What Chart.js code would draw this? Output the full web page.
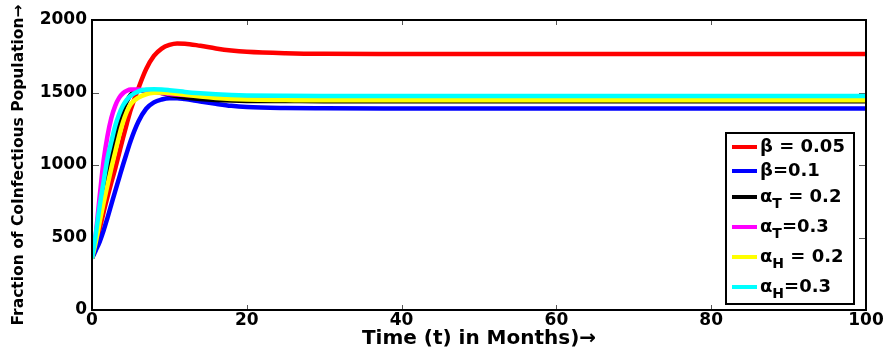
<!DOCTYPE html>
<html>
<head>
<meta charset="utf-8">
<script src="https://cdn.jsdelivr.net/npm/chart.js@4"></script>
<style>
  html, body { margin: 0; padding: 0; background: #fff; }
  #wrap { width: 887px; height: 350px; }
</style>
</head>
<body>
<div id="wrap"><canvas id="coinfection"></canvas></div>
<script>
'use strict';

// time points (months)
const months = [0, 0.5, 1, 1.5, 2, 2.5, 3, 3.5, 4, 4.5, 5, 6, 7, 8, 9, 10, 11, 12, 14, 16, 18, 20, 25, 30, 40, 50, 60, 70, 80, 90, 100];

const beta005 = [356, 450, 560, 675, 780, 880, 975, 1080, 1185, 1285, 1380, 1530, 1662, 1752, 1803, 1828, 1838, 1837, 1822, 1804, 1790, 1781, 1771, 1767, 1766, 1766, 1766, 1766, 1766, 1766, 1766];
const beta01 = [356, 412, 472, 548, 636, 728, 820, 910, 1000, 1085, 1168, 1300, 1388, 1432, 1452, 1461, 1461, 1455, 1438, 1422, 1408, 1400, 1393, 1391, 1390, 1390, 1390, 1390, 1390, 1390, 1390];
const alphaT02 = [356, 495, 655, 800, 945, 1070, 1185, 1290, 1375, 1440, 1485, 1512, 1515, 1508, 1497, 1485, 1474, 1466, 1455, 1448, 1444, 1442, 1441, 1440, 1440, 1440, 1440, 1440, 1440, 1440, 1440];
const alphaT03 = [356, 530, 790, 1030, 1200, 1325, 1408, 1463, 1495, 1512, 1520, 1520, 1512, 1503, 1496, 1490, 1486, 1483, 1479, 1476, 1475, 1474, 1473, 1472, 1472, 1472, 1472, 1472, 1472, 1472, 1472];
const alphaH02 = [356, 470, 610, 740, 860, 980, 1090, 1200, 1295, 1368, 1420, 1465, 1488, 1498, 1500, 1497, 1491, 1484, 1472, 1462, 1455, 1451, 1448, 1446, 1446, 1446, 1446, 1446, 1446, 1446, 1446];
const alphaH03 = [356, 525, 720, 885, 1045, 1160, 1270, 1350, 1410, 1450, 1478, 1508, 1520, 1523, 1521, 1516, 1510, 1504, 1495, 1488, 1483, 1480, 1477, 1476, 1476, 1476, 1476, 1476, 1476, 1476, 1476];

const xTicks = [0, 20, 40, 60, 80, 100];
const yTicks = [0, 500, 1000, 1500, 2000];

// legend text: [symbol, subscript, rest]
const legendLabels = [
    ['β', '', ' = 0.05'],
    ['β', '', '=0.1'],
    ['α', 'T', ' = 0.2'],
    ['α', 'T', '=0.3'],
    ['α', 'H', ' = 0.2'],
    ['α', 'H', '=0.3'],
];
const seriesColors = ['#ff0000', '#0000ff', '#000000', '#ff00ff', '#ffff00', '#00ffff'];
const seriesValues = [beta005, beta01, alphaT02, alphaT03, alphaH02, alphaH03];

const FONT = '"DejaVu Sans", sans-serif';

const toPoints = (vals) => months.map((t, i) => ({x: t, y: vals[i]}));

// matlab style frame: box, inward ticks on all four sides, legend inside
const matlabFrame = {
    id: 'matlabFrame',
    beforeDatasetsDraw(chart) {
        const {ctx, chartArea: a, scales} = chart;
        ctx.save();
        ctx.strokeStyle = '#555';
        ctx.lineWidth = 1;
        ctx.beginPath();
        xTicks.forEach(v => {
            const px = Math.round(scales.x.getPixelForValue(v)) + 0.5;
            ctx.moveTo(px, a.bottom); ctx.lineTo(px, a.bottom - 5);
            ctx.moveTo(px, a.top); ctx.lineTo(px, a.top + 5);
        });
        yTicks.forEach(v => {
            const py = Math.round(scales.y.getPixelForValue(v)) + 0.5;
            ctx.moveTo(a.left, py); ctx.lineTo(a.left + 7, py);
            ctx.moveTo(a.right, py); ctx.lineTo(a.right - 7, py);
        });
        ctx.stroke();
        ctx.restore();
    },
    afterDatasetsDraw(chart) {
        const {ctx, chartArea: a} = chart;
        ctx.save();
        ctx.strokeStyle = '#000';
        ctx.lineWidth = 2;
        ctx.strokeRect(a.left, a.top, a.width, a.height);

        // legend box
        const bx = a.right - 140, by = a.bottom - 177, bw = 128, bh = 171;
        ctx.fillStyle = '#fff';
        ctx.fillRect(bx, by, bw, bh);
        ctx.strokeRect(bx, by, bw, bh);
        const rowY = [14, 38, 64, 94, 124, 154];
        legendLabels.forEach((parts, i) => {
            const y = by + rowY[i];
            ctx.strokeStyle = seriesColors[i];
            ctx.lineWidth = 4;
            ctx.beginPath();
            ctx.moveTo(bx + 6, y); ctx.lineTo(bx + 31, y);
            ctx.stroke();
            ctx.fillStyle = '#000';
            ctx.textBaseline = 'middle';
            let tx = bx + 34;
            ctx.font = 'bold 18px ' + FONT;
            ctx.fillText(parts[0], tx, y);
            tx += ctx.measureText(parts[0]).width;
            if (parts[1]) {
                ctx.font = 'bold 14px ' + FONT;
                ctx.fillText(parts[1], tx, y + 7);
                tx += ctx.measureText(parts[1]).width;
            }
            ctx.font = 'bold 18px ' + FONT;
            ctx.fillText(parts[2], tx, y);
        });
        ctx.restore();
    },
};

const ctx = document.getElementById('coinfection').getContext('2d');
new Chart(ctx, {
    type: 'line',
    data: {
        datasets: seriesValues.map((vals, i) => ({
            label: legendLabels[i].join(''),
            data: toPoints(vals),
            borderColor: seriesColors[i],
            backgroundColor: seriesColors[i],
            borderWidth: 4.5,
            pointRadius: 0,
            fill: false,
            cubicInterpolationMode: 'monotone',
            order: seriesValues.length - i,
        })),
    },
    options: {
        responsive: true,
        maintainAspectRatio: false,
        animation: false,
        layout: {padding: {left: 0, right: 21, top: 20, bottom: 0}},
        plugins: {
            legend: {display: false},
            tooltip: {enabled: false},
        },
        scales: {
            x: {
                type: 'linear',
                min: 0,
                max: 100,
                grid: {display: false, drawTicks: false},
                border: {display: false},
                afterFit: (scale) => { scale.height = 40; },
                afterBuildTicks: (scale) => { scale.ticks = xTicks.map(v => ({value: v})); },
                ticks: {
                    color: '#000',
                    padding: 2,
                    maxRotation: 0,
                    font: {family: FONT, size: 17, weight: 'bold', lineHeight: 1},
                    callback: (v) => String(v),
                },
                title: {
                    display: true,
                    text: 'Time (t) in Months)→',
                    color: '#000',
                    font: {family: FONT, size: 20, weight: 'bold', lineHeight: 1},
                    padding: {top: 0, bottom: 1},
                },
            },
            y: {
                min: 0,
                max: 2000,
                grid: {display: false, drawTicks: false},
                border: {display: false},
                afterFit: (scale) => { scale.width = 92; },
                afterBuildTicks: (scale) => { scale.ticks = yTicks.map(v => ({value: v})); },
                ticks: {
                    color: '#000',
                    padding: 5,
                    font: {family: FONT, size: 17, weight: 'bold'},
                    callback: (v) => String(v),
                },
                title: {
                    display: true,
                    text: 'Fraction of CoInfectious Population→',
                    color: '#000',
                    font: {family: FONT, size: 15.5, weight: 'bold', lineHeight: 1.2},
                    padding: {top: 10, bottom: 0},
                },
            },
        },
    },
    plugins: [matlabFrame],
});
</script>
</body>
</html>
